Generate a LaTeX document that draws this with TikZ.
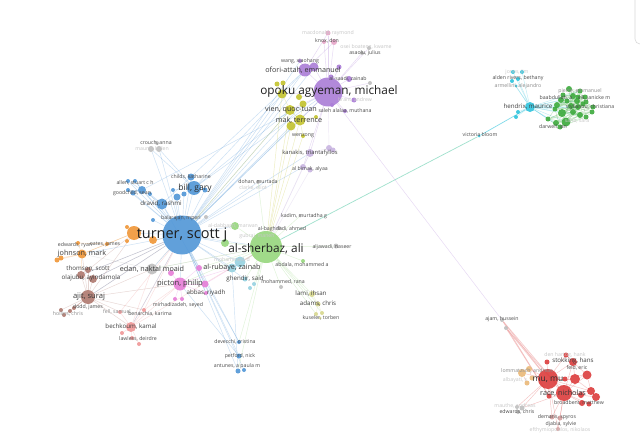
\documentclass[tikz,border=0pt]{standalone}
\usepackage{fontspec}
\setmainfont{Open Sans}
\pgfdeclarelayer{back}
\pgfdeclarelayer{edges}
\pgfsetlayers{back,edges,main}
\definecolor{cBlue}{RGB}{80,150,215}
\definecolor{cGreen}{RGB}{150,215,125}
\definecolor{cPurple}{RGB}{170,125,215}
\definecolor{cYellow}{RGB}{195,195,45}
\definecolor{cLYellow}{RGB}{215,215,140}
\definecolor{cOrange}{RGB}{240,150,55}
\definecolor{cLOrange}{RGB}{235,185,120}
\definecolor{cBrown}{RGB}{175,120,110}
\definecolor{cMag}{RGB}{230,125,215}
\definecolor{cLCyan}{RGB}{150,210,225}
\definecolor{cSalmon}{RGB}{240,150,150}
\definecolor{cGray}{RGB}{190,190,190}
\definecolor{cLav}{RGB}{200,180,225}
\definecolor{cCyan}{RGB}{45,195,220}
\definecolor{cDGreen}{RGB}{60,170,60}
\definecolor{cRed}{RGB}{220,60,60}
\definecolor{cPink}{RGB}{230,165,200}
\definecolor{cRose}{RGB}{215,160,160}
\begin{document}
\begin{tikzpicture}[x=1pt,y=-1pt,
 vd/.style 2 args={circle,inner sep=0pt,draw=none,fill=#1,fill opacity=.9,minimum size=#2},
 ln/.style={draw=#1,line width=.45pt,draw opacity=.3},
 lnw/.style={draw=#1,line width=.7pt,draw opacity=.6},
 lb/.style={inner sep=0pt},
 fXL/.style={lb,font=\fontsize{14.5}{15}\selectfont,text=black!88},
 fL/.style={lb,font=\fontsize{11.8}{12}\selectfont,text=black!88},
 fB/.style={lb,font=\fontsize{8.5}{9}\selectfont,text=black!82},
 fM/.style={lb,font=\fontsize{7.2}{8}\selectfont,text=black!78},
 fMs/.style={lb,font=\fontsize{6.2}{7}\selectfont,text=black!75},
 fS/.style={lb,font=\fontsize{5.2}{6}\selectfont,text=black!70},
 fSl/.style={lb,font=\fontsize{5.2}{6}\selectfont,text=black!45},
 fF/.style={lb,font=\fontsize{5.2}{6}\selectfont,text=black!22},
 ui/.style={draw=black!15,line width=.6pt,rounded corners=5pt}]
\begin{pgfonlayer}{back}
\fill[white] (0,0) rectangle (640,444);
\end{pgfonlayer}
\useasboundingbox (0,0) rectangle (640,444);
\draw[ui] (635,-8) -- (635,44) -- (655,44);

% ---------- circles ----------
\foreach \n/\x/\y/\s in {pk1/328/33/5,pk2/334/42/6,pk3/324/42/4}
  \node[vd={cPink}{\s pt}] (\n) at (\x,\y) {};
\foreach \n/\x/\y/\s in {gr1/369/48/4,gr2/362/53/4,gr3/370/83/4,gr4/206/217/4,cr1/151/149/6,cr2/159/149/6,cr3/157/143/4,ed/152/269/11,bag/279/228/4,kad/300/216/3,dh/258/182/4,aw/336/246/5,mra/281/287/4,ah1/502/320/4,ah2/506/328/4,e1/517/407/4,e2/522/408/5,e3/518/412/4}
  \node[vd={cGray}{\s pt}] (\n) at (\x,\y) {};
\foreach \n/\x/\y/\s in {wx/300/61/4,of/305/70/13,p2/314/67/9,p3/339/67/5,p4/331/77/5,zn/349/79/6,op/328/92/29,p5/354/100/5,p6/332/105/4,sa/345/111/4}
  \node[vd={cPurple}{\s pt}] (\n) at (\x,\y) {};
\foreach \n/\x/\y/\s in {y1/277/84/5,y2/283/83/5,y3/282/94/9,y4/299/97/6,y5/303/104/7,vq/290/110/10,mk/300/120/11,y6/291/126/9,y7/316/117/4,wz/303/136/4}
  \node[vd={cYellow}{\s pt}] (\n) at (\x,\y) {};
\foreach \n/\x/\y/\s in {kan/310/153/8,l2/329/148/6,l3/333/150/5,bm1/303/167/6,bm2/310/170/5}
  \node[vd={cLav}{\s pt}] (\n) at (\x,\y) {};
\foreach \n/\x/\y/\s in {tu/182/235/39,bg/194/188/14,ch/191/177/7,dr/162/204/11,b1/128/181/4,b2/135/181/4,b3/142/190/8,b4/133/193/5,b5/128/190/4,b6/150/194/4,b7/173/190/4,b8/177/197/7,b9/184/194/5,b10/205/190/5,b11/153/220/4,bal/180/218/5,dv/239/342/4,pf/239/356/5,an1/238/371/5,an2/244/370/4}
  \node[vd={cBlue}{\s pt}] (\n) at (\x,\y) {};
\foreach \n/\x/\y/\s in {or1/134/233/14,or2/153/240/8,or3/127/241/4,or4/127/227/4,er/78/243/4,oa/107/244/4,jm/82/254/9,j2/61/258/5,j3/57/260/5}
  \node[vd={cOrange}{\s pt}] (\n) at (\x,\y) {};
\foreach \n/\x/\y/\s in {th1/81/275/8,th2/88/270/6,oj/93/279/8,aj/88/297/14,d1/61/310/4,d2/64/315/4,d3/70/311/4,d4/74/308/4}
  \node[vd={cBrown}{\s pt}] (\n) at (\x,\y) {};
\foreach \n/\x/\y/\s in {fs/120/312/4,ba/144/310/4,bk/131/327/10,bk2/122/333/4,lw1/132/338/4,lw2/139/344/4}
  \node[vd={cSalmon}{\s pt}] (\n) at (\x,\y) {};
\foreach \n/\x/\y/\s in {m1/171/273/6,m2/199/268/6,pc/180/284/13,m3/205/284/7,ab/206/293/4,mr1/175/299/4,mr2/182/299/4}
  \node[vd={cMag}{\s pt}] (\n) at (\x,\y) {};
\foreach \n/\x/\y/\s in {lc1/240/262/11,ar/232/268/9,gh/245/279/5,lc2/254/284/4,lc3/250/288/4}
  \node[vd={cLCyan}{\s pt}] (\n) at (\x,\y) {};
\foreach \n/\x/\y/\s in {as/266/247/32,g1/235/226/8,g2/225/243/8,abd/303/261/4}
  \node[vd={cGreen}{\s pt}] (\n) at (\x,\y) {};
\foreach \n/\x/\y/\s in {lam/312/294/6,adm/318/304/5,ku1/316/314/4,ku2/322/313/4,ku3/320/318/3}
  \node[vd={cLYellow}{\s pt}] (\n) at (\x,\y) {};
\foreach \n/\x/\y/\s in {c1/513/72/4,c2/522/72/4,c3/512/81/4,c4/518/79/4,c5/516/86/3,hen/530/107/10,c6/518/112/4,c7/516/117/4,vb/479/136/3}
  \node[vd={cCyan}{\s pt}] (\n) at (\x,\y) {};
\foreach \n/\x/\y/\s in {gc1/569/89/6,gc2/580/91/5,gc3/563/95/5,gc4/573/96/6,gc5/578/97/5,gc6/585/97/5,gc7/561/100/6,gc8/567/101/5,gc9/577/101/6,gc10/586/102/5,gc11/557/105/6,gc12/571/106/6,gc13/578/107/6,gc14/583/104/5,gc15/593/107/5,gc16/555/109/5,gc17/562/113/8,gc18/573/112/6,gc19/580/115/6,gc20/592/112/5,gc21/548/119/5,gc22/566/122/9,gc23/556/123/6,gc24/560/127/5,gc25/586/117/5}
  \node[vd={cDGreen}{\s pt}] (\n) at (\x,\y) {};
\foreach \n/\x/\y/\s in {mu/548/379/20,rc/564/393/16,sk/573/362/8,r1/566/355/5,r2/547/362/5,r3/575/379/10,r4/587/375/9,r5/591/391/8,r6/596/397/8,r7/581/395/6,r8/589/404/5,r9/582/403/6,r10/549/396/5,r11/565/379/5}
  \node[vd={cRed}{\s pt}] (\n) at (\x,\y) {};
\foreach \n/\x/\y/\s in {lo1/522/373/8,lo2/529/369/6,lo3/527/383/5,lo4/532/378/5}
  \node[vd={cLOrange}{\s pt}] (\n) at (\x,\y) {};
\foreach \n/\x/\y/\s in {ds1/552/417/5,ds2/560/418/5,ds3/558/429/4}
  \node[vd={cRose}{\s pt}] (\n) at (\x,\y) {};

% ---------- connectors ----------
\begin{pgfonlayer}{edges}
\foreach \b in {bg,ch,dr,b1,b2,b3,b4,b5,b6,b7,b8,b9,b10,b11,bal,gr4,cr1,cr2,op,of,p2,wx,vq,mk,y3,y5,y6,kan,dv,pf,an1,an2,or1,or2,jm,th1,oj,aj,bk,ed,pc,m2,ab,ar,gh,as,g1,g2,dh,lc1,bm1}
  \draw[ln=cBlue] (tu) -- (\b);
\foreach \a/\b in {bg/op,bg/of,bg/vq,bg/cr1,bg/cr2,b3/op,dr/of,bg/ch,b3/b1,b3/b2,b3/b4,b3/b5,dr/b3,dr/b6,bg/b7,bg/b8,bg/b10,dr/dv,pc/pf,ar/an1}
  \draw[ln=cBlue] (\a) -- (\b);
\foreach \a/\b in {op/of,op/p2,op/p3,op/p4,op/zn,op/p5,op/p6,op/sa,op/pk1,op/pk2,op/pk3,op/gr1,op/gr2,op/gr3,of/wx,of/pk1,of/pk2,of/p2,op/kan,op/vq,op/mk,op/y3,op/y4,op/ah1,op/bm1}
  \draw[ln=cPurple] (\a) -- (\b);
\foreach \a/\b in {vq/mk,mk/y6,y3/vq,y1/y3,y2/y3,y4/y5,y5/mk,mk/as,vq/as,y6/as,wz/as,wz/mk,y7/mk,y3/as,vq/tu}
  \draw[ln=cYellow] (\a) -- (\b);
\foreach \a/\b in {kan/as,kan/bm1,bm1/as,bm2/as,l2/kan,l3/kan,l2/op}
  \draw[ln=cLav] (\a) -- (\b);
\foreach \b in {g1,g2,bag,kad,dh,aw,abd,mra,lam,adm,ku1,ku2,gh,pc,ar,lc1,dv,an1,ed,m2,lc2}
  \draw[ln=cGreen] (as) -- (\b);
\foreach \a/\b in {lam/adm,adm/ku1,adm/ku2,ku1/ku3}
  \draw[ln=cLYellow] (\a) -- (\b);
\draw[lnw=cGreen!50!cCyan] (as) -- (vb);
\draw[lnw=cCyan] (vb) -- (hen);
\foreach \b in {c1,c2,c3,c4,c5,c6,c7,gc2,gc5,gc7,gc9,gc11,gc13,gc16,gc19,gc21,gc22,gc23,gc24,gc12,gc17}
  \draw[ln=cCyan] (hen) -- (\b);
\foreach \i in {1,...,25}{\foreach \d in {1,3,5,8,11}{\pgfmathtruncatemacro\j{\i+\d}\ifnum\j<26 \draw[ln=cDGreen] (gc\i) -- (gc\j);\fi}}
\foreach \a/\b in {ah1/mu,ah1/rc,ah2/mu,ah2/rc,ah1/r10,ah2/r10}
  \draw[lnw=cRed!45] (\a) -- (\b);
\foreach \a/\b in {mu/rc,mu/sk,mu/r1,mu/r2,mu/r3,mu/r4,mu/r5,mu/r7,mu/r10,mu/r11,rc/sk,rc/r3,rc/r4,rc/r5,rc/r6,rc/r7,rc/r8,rc/r9,sk/r3,sk/r4,r3/r4,r4/r5,r5/r6,mu/lo1,mu/lo2,lo1/lo2,lo1/lo3,lo2/lo4,mu/e1,mu/e2,rc/e2,mu/ds1,rc/ds1,rc/ds2,mu/ds3,rc/ds3,r1/sk,r3/r5}
  \draw[ln=cRed] (\a) -- (\b);
\foreach \a/\b in {aj/th1,aj/th2,aj/oj,aj/jm,aj/d1,aj/d2,aj/d3,aj/d4,aj/bk,aj/ba,aj/fs,aj/tu,aj/pc,aj/ed,aj/or1,th1/tu,oj/tu,th2/or1}
  \draw[ln=cBrown] (\a) -- (\b);
\foreach \a/\b in {jm/or1,jm/er,jm/oa,jm/j2,jm/j3,jm/th1,or1/oa,or1/or3,or1/or4,or2/tu,er/oa}
  \draw[ln=cOrange] (\a) -- (\b);
\foreach \a/\b in {bk/lw1,bk/lw2,bk/bk2,bk/tu,bk/pc,bk/ba,bk/fs,bk/ed,ba/pc,fs/tu,ba/tu,bk/as}
  \draw[ln=cSalmon] (\a) -- (\b);
\foreach \a/\b in {pc/m1,pc/m2,pc/m3,pc/ab,pc/mr1,pc/mr2,pc/ar,m3/as}
  \draw[ln=cMag] (\a) -- (\b);
\foreach \a/\b in {ed/tu,ed/jm,ed/as}
  \draw[ln=cGray] (\a) -- (\b);
\end{pgfonlayer}

% ---------- labels ----------
\node[fF] (mcdL) at (328,33) {macdonald, raymond};
\node[fS] (knL) at (327,41) {knox, don};
\node[fF] (osL) at (366,47) {osei boateng, kwame};
\node[fS] (juL) at (365,53) {asaolu, julius};
\node[fS] (wxL) at (300,61) {wang, xiaohang};
\node[fM] (ofL) at (303,70) {ofori-attah, emmanuel};
\node[fS] (znL) at (348,79) {al-saadi, zainab};
\node[fL] (opL) at (329,91) {opoku agyeman, michael};
\node[fF] (andL) at (355,100) {brant, andrew};
\node[fS] (saL) at (345,111) {saleh alalaa, muthana};
\node[fM] (vqL) at (291,110) {vien, quoc-tuan};
\node[fM] (mkL) at (299,120) {mak, terrence};
\node[fS] (wzL) at (303,136) {wenzong};
\node[lb,font=\fontsize{5.8}{6}\selectfont,text=black!72] (kanL) at (310,153) {kanakis, triantafyllos};
\node[fS] (bmL) at (310,169) {al bimak, alyaa};
\node[fS] (dhL) at (258,182) {dohan, murtada};
\node[fF] (clL) at (253,188) {clarke, eliot};
\node[fS] (crL) at (156,143) {crouch, anna};
\node[fF] (mhL) at (152,149) {maund, helen};
\node[fS] (chL) at (191,177) {childs, katharine};
\node[fB] (bgL) at (195,188) {bill, gary};
\node[fS] (alL) at (135,183) {allen, stuart c h};
\node[fS] (goL) at (132,193) {goodchild, sean};
\node[fMs] (drL) at (161,204) {dravid, rashmi};
\node[fS] (baL) at (181,218) {balarajan, mperi};
\node[fXL] (tuL) at (182,235) {turner, scott j};
\node[fS] (erL) at (75,245) {edwards, ryan};
\node[fS] (oaL) at (105,244) {oates, james};
\node[fM] (jmL) at (82,254) {johnson, mark};
\node[fMs] (thL) at (88,269) {thomson, scott};
\node[fMs] (ojL) at (91,278) {olajubu, ayindamola};
\node[fM] (edL) at (152,269) {edan, naktal moaid};
\node[lb,font=\fontsize{7.6}{8}\selectfont,text=black!78] (pcL) at (180,284) {picton, philip};
\node[fMs] (abL) at (206,293) {abbas, riyadh};
\node[fS] (mrL) at (178,305) {mirhadizadeh, seyed};
\node[lb,font=\fontsize{7.6}{8}\selectfont,text=black!78] (ajL) at (89,297) {ajit, suraj};
\node[fS] (ddL) at (88,307) {dodd, james};
\node[fSl] (hoL) at (68,314) {hollins, chris};
\node[fSl] (fsL) at (117,312) {fell, samuel};
\node[fS] (beL) at (150,314) {benarchia, karima};
\node[fMs] (bkL) at (131,327) {bechkoum, kamal};
\node[fS] (lwL) at (138,339) {lawless, deirdre};
\node[fL] (shL) at (266,249) {al-sherbaz, ali};
\node[fF] (mwL) at (233,226) {al-dabbagh, marwan};
\node[fS] (bagL) at (282,229) {al-baghdadi, ahmed};
\node[fF] (gbL) at (257,236) {gubraj, maneh};
\node[fS] (kadL) at (304,216) {kadim, murtadha g};
\node[fS] (awL) at (332,247) {aljawadi, naseer};
\node[fS] (abdL) at (302,265) {abdala, mohammed a};
\node[fF] (mdL) at (232,260) {mohammed, d};
\node[fM] (arL) at (232,268) {al-rubaye, zainab};
\node[fMs] (ghL) at (245,279) {ghendir, said};
\node[fS] (mraL) at (283,282) {mohammed, rana};
\node[fMs] (lamL) at (311,294) {lami, ihsan};
\node[fMs] (admL) at (318,304) {adams, chris};
\node[fS] (kuL) at (321,318) {kuseler, torben};
\node[fS] (dvL) at (235,342) {devecchi, cristina};
\node[fS] (pfL) at (240,356) {petford, nick};
\node[fS] (anL) at (237,366) {antunes, a paula m};
\node[fF] (jiL) at (517,72) {jones, jim};
\node[fS] (bethL) at (518,78) {alden rivers, bethany};
\node[fSl] (armL) at (518,86) {armellini, alejandro};
\node[fMs] (henL) at (528,107) {hendrix, maurice};
\node[fS] (vbL) at (480,135) {victoria bloom};
\node[fSl] (emL) at (580,91) {pierre, emmanuel};
\node[fS] (baaL) at (556,98) {baabdullah, a};
\node[fS] (jaL) at (594,98) {vik, janicke m};
\node[fS] (chrL) at (590,107) {stylianou, christiana};
\node[fF] (sarL) at (577,121) {saha, sara};
\node[fS] (daL) at (553,127) {darwell, ian};
\node[fS] (ajhL) at (502,319) {ajam, hussein};
\node[fF] (hkL) at (565,355) {den hartog, hank};
\node[fMs] (skL) at (573,361) {stokking, hans};
\node[fS] (ericL) at (577,368) {feld, eric};
\node[fSl] (loL) at (527,371) {lommatzsch, andreas};
\node[fF] (albL) at (515,380) {albayati, s};
\node[fB] (muL) at (548,380) {mu, mu};
\node[fM] (rcL) at (563,393) {race, nicholas};
\node[fS] (brL) at (579,403) {broadbent, matthew};
\node[fF] (maL) at (515,406) {mauthe, andreas};
\node[fS] (ecL) at (517,412) {edwards, chris};
\node[fS] (dsL) at (557,417) {demaris, spyros};
\node[fS] (syL) at (561,424) {djabia, sylvie};
\node[fF] (efL) at (560,430) {efthymiopoulos, nikolaos};
\end{tikzpicture}
\end{document}
